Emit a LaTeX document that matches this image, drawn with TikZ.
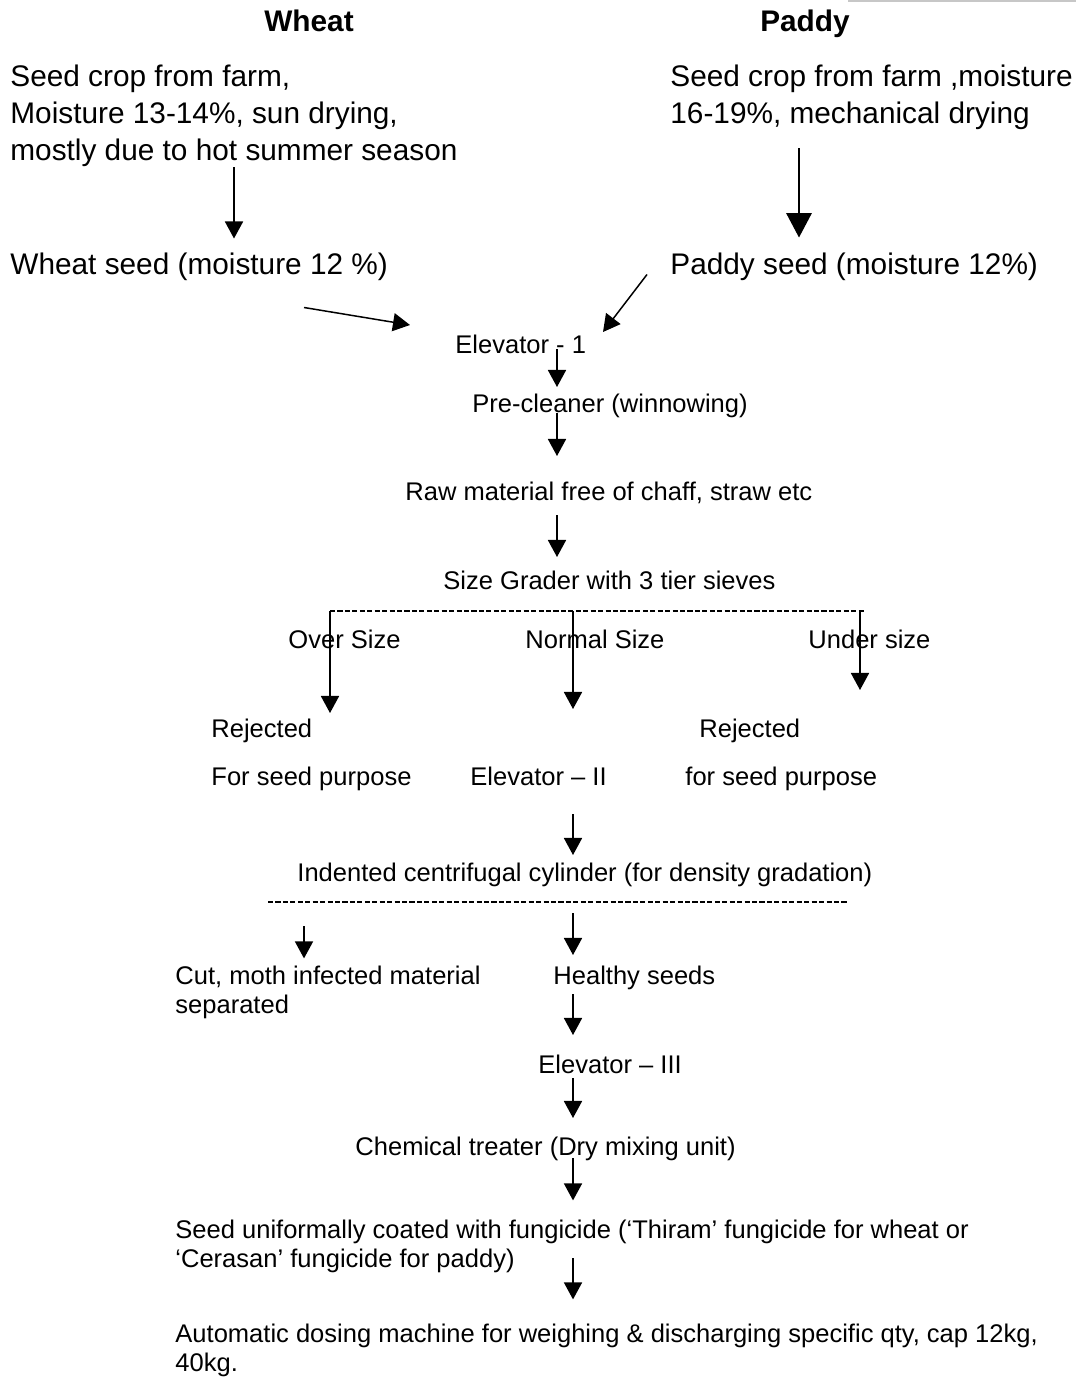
\documentclass[tikz,border=0pt]{standalone}
\usepackage{fontspec}
\setmainfont{Liberation Sans}
\usetikzlibrary{arrows.meta,calc}

\tikzset{
  headtext/.style={font=\fontsize{14}{17.4}\selectfont\bfseries, inner sep=0pt},
  bigtext/.style={font=\fontsize{14}{17.4}\selectfont, inner sep=0pt},
  smalltext/.style={font=\fontsize{12}{13.8}\selectfont, inner sep=0pt},
  lines/.style={align=left},
  flow/.style={line width=0.7pt, -{Triangle[length=8pt,width=8.5pt]}},
  bigflow/.style={line width=0.7pt, -{Triangle[length=11.5pt,width=12pt]}},
  sieve/.style={line width=0.6pt, dash pattern=on 2.4pt off 1.1pt}
}

\begin{document}
\begin{tikzpicture}[x=0.47pt,y=-0.47pt]
  \useasboundingbox (0,0) rectangle (1076,1380);

  % Columns used by the arrows
  \coordinate (colW) at (234,0);
  \coordinate (colP) at (799,0);
  \coordinate (spineA) at (557,0);
  \coordinate (spineB) at (573,0);
  \coordinate (colC) at (304,0);
  \coordinate (colU) at (860,0);

  % Faint scan edge at the top
  \draw[black!22, line width=1.2pt] (848,1) -- (1076,1);

  % Headings
  \node[headtext, anchor=base] (wheat) at (309,31) {Wheat};
  \node[headtext, anchor=base] (paddy) at (805,31) {Paddy};

  % Wheat side
  \node[bigtext, lines, anchor=north west] (wfarm) at (10,64.7)
    {Seed crop from farm,\\Moisture 13-14\%, sun drying,\\mostly due to hot summer season};
  \node[bigtext, anchor=base west] (wseed) at (10,274.5) {Wheat seed (moisture 12 \%)};

  % Paddy side
  \node[bigtext, lines, anchor=north west] (pfarm) at (670,64.7)
    {Seed crop from farm ,moisture\\16-19\%, mechanical drying};
  \node[bigtext, anchor=base west] (pseed) at (670,274.5) {Paddy seed (moisture 12\%)};

  % Cleaning and grading
  \node[smalltext, anchor=base west] (elev1) at (455,353) {Elevator - 1};
  \node[smalltext, anchor=base west] (precl) at (472,412) {Pre-cleaner (winnowing)};
  \node[smalltext, anchor=base west] (raw) at (405,500) {Raw material free of chaff, straw etc};
  \node[smalltext, anchor=base west] (grader) at (443,589) {Size Grader with 3 tier sieves};
  \node[smalltext, anchor=base west] (over) at (288,648) {Over Size};
  \node[smalltext, anchor=base west] (normal) at (525,648) {Normal Size};
  \node[smalltext, anchor=base west] (under) at (808,648) {Under size};
  \node[smalltext, anchor=base west] (rejA) at (211,737) {Rejected};
  \node[smalltext, anchor=base west] (rejB) at (699,737) {Rejected};
  \node[smalltext, anchor=base west] (purpA) at (211,785) {For seed purpose};
  \node[smalltext, anchor=base west] (elev2) at (470,785) {Elevator – II};
  \node[smalltext, anchor=base west] (purpB) at (685,785) {for seed purpose};

  % Density gradation and treatment
  \node[smalltext, anchor=base west] (indent) at (297,881) {Indented centrifugal cylinder (for density gradation)};
  \node[smalltext, lines, anchor=north west] (cut) at (175,965.4)
    {Cut, moth infected material\\separated};
  \node[smalltext, anchor=base west] (healthy) at (553,984) {Healthy seeds};
  \node[smalltext, anchor=base west] (elev3) at (538,1073) {Elevator – III};
  \node[smalltext, anchor=base west] (chem) at (355,1155) {Chemical treater (Dry mixing unit)};
  \node[smalltext, lines, anchor=north west] (coat) at (175,1219.4)
    {Seed uniformally coated with fungicide (‘Thiram’ fungicide for wheat or\\‘Cerasan’ fungicide for paddy)};
  \node[smalltext, lines, anchor=north west] (dose) at (175,1323.4)
    {Automatic dosing machine for weighing \& discharging specific qty, cap 12kg,\\40kg.};

  % Sieve lines
  \coordinate (sieveL) at (330,611);
  \coordinate (sieveR) at (865,611);
  \coordinate (densL) at (268,902);
  \coordinate (densR) at (847,902);
  \draw[sieve] (sieveL) -- (sieveR);
  \draw[sieve] (densL) -- (densR);

  % Arrows from the farm
  \draw[flow] (wfarm.south -| colW) -- ($(wseed.base -| colW)+(0,-36)$);
  \draw[bigflow] ($(pfarm.south -| colP)+(0,18)$) -- ($(pseed.base -| colP)+(0,-37)$);
  \draw[flow] ($(wseed.base west)+(294,33)$) -- ($(elev1.base west)+(-45,-28)$);
  \draw[flow] ($(pseed.base west)+(-23,0)$) -- ($(elev1.base west)+(148,-21)$);

  % Main line
  \draw[flow] ($(elev1.base -| spineA)+(0,-4)$) -- ($(precl.base -| spineA)+(0,-25)$);
  \draw[flow] ($(precl.base -| spineA)+(0,1)$) -- ($(raw.base -| spineA)+(0,-44)$);
  \draw[flow] ($(raw.base -| spineA)+(0,15)$) -- ($(grader.base -| spineA)+(0,-32)$);
  \draw[flow] (sieveL) -- ($(rejA.base -| sieveL)+(0,-24)$);
  \draw[flow] (sieveL -| spineB) -- ($(normal.base -| spineB)+(0,61)$);
  \draw[flow] (sieveL -| colU) -- ($(under.base -| colU)+(0,42)$);
  \draw[flow] ($(elev2.base -| spineB)+(0,29)$) -- ($(indent.base -| spineB)+(0,-26)$);
  \draw[flow] ($(densL -| colC)+(0,24)$) -- ($(cut.north -| colC)+(0,-7)$);
  \draw[flow] ($(densL -| spineB)+(0,11)$) -- ($(healthy.base -| spineB)+(0,-29)$);
  \draw[flow] ($(healthy.base -| spineB)+(0,10)$) -- ($(elev3.base -| spineB)+(0,-38)$);
  \draw[flow] ($(elev3.base -| spineB)+(0,5)$) -- ($(chem.base -| spineB)+(0,-37)$);
  \draw[flow] ($(chem.base -| spineB)+(0,3)$) -- ($(coat.north -| spineB)+(0,-19)$);
  \draw[flow] ($(coat.north -| spineB)+(0,39)$) -- ($(dose.north -| spineB)+(0,-24)$);
\end{tikzpicture}
\end{document}
